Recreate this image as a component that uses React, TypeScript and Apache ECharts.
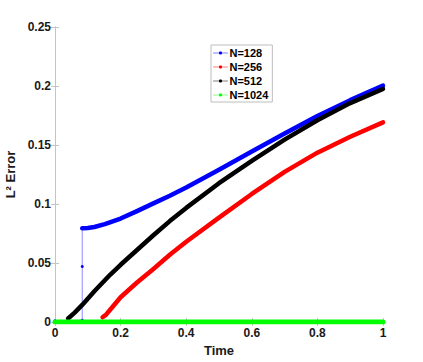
import React, { useEffect, useRef } from "react";
import * as echarts from "echarts";

const xTicks = [0, 0.2, 0.4, 0.6, 0.8, 1];
const yTicks = [0, 0.05, 0.1, 0.15, 0.2, 0.25];

const seriesNames = ["N=128", "N=256", "N=512", "N=1024"];
const seriesColors = ["#0000ff", "#ff0000", "#000000", "#00ff00"];

// N=128: low part + jump (thin, dotted)
const blueJumpTimes = [0, 0.04, 0.083, 0.083, 0.083];
const blueJumpVals = [0.001, 0.0012, 0.0015, 0.047, 0.0794];
// N=128: main curve
const blueTimes = [0.083, 0.1, 0.12, 0.152, 0.2, 0.25, 0.3, 0.35, 0.4, 0.5, 0.6, 0.7, 0.8, 0.9, 1.0];
const blueVals = [0.0794, 0.0797, 0.0805, 0.083, 0.0877, 0.094, 0.1005, 0.107, 0.1139, 0.129, 0.1445, 0.1597, 0.1745, 0.188, 0.2003];

// N=256
const redTimes = [0.145, 0.155, 0.17, 0.2, 0.25, 0.3, 0.35, 0.4, 0.5, 0.6, 0.7, 0.8, 0.9, 1.0];
const redVals = [0.004, 0.006, 0.011, 0.021, 0.0335, 0.045, 0.057, 0.068, 0.0885, 0.1085, 0.1272, 0.1435, 0.157, 0.1692];

// N=512
const blackTimes = [0.04, 0.06, 0.083, 0.12, 0.168, 0.2, 0.25, 0.3, 0.35, 0.4, 0.5, 0.6, 0.7, 0.8, 0.9, 1.0];
const blackVals = [0.003, 0.008, 0.0145, 0.026, 0.04, 0.0485, 0.061, 0.0735, 0.0855, 0.0967, 0.1176, 0.1365, 0.1545, 0.171, 0.1855, 0.1975];

// N=1024
const greenTimes = [0, 1];
const greenVals = [0, 0];

const zip = (t: number[], v: number[]) => t.map((x, i) => [x, v[i]]);

const FONT = "Liberation Sans, Arial, Helvetica, sans-serif";
const AXIS_GRAY = "#c4c4c4";

export default function App() {
  const ref = useRef<HTMLDivElement>(null);

  useEffect(() => {
    if (!ref.current) return;
    const chart = echarts.init(ref.current, undefined, { renderer: "svg" });

    const thick = (name: string, color: string, t: number[], v: number[], w: number) => ({
      name,
      type: "line",
      data: zip(t, v),
      showSymbol: false,
      symbol: "circle",
      symbolSize: 3,
      itemStyle: { color },
      lineStyle: { color, width: w, cap: "round", join: "round" },
      smooth: false,
      silent: true,
      z: 3,
    });

    const axisCommon = {
      type: "value",
      axisLine: { show: true, lineStyle: { color: AXIS_GRAY, width: 1 } },
      axisTick: { show: true, inside: true, length: 4, lineStyle: { color: AXIS_GRAY } },
      splitLine: { show: false },
    };

    chart.setOption({
      animation: false,
      backgroundColor: "#ffffff",
      textStyle: { fontFamily: FONT },
      grid: { left: 55, top: 27, right: 40, bottom: 40, outerBoundsMode: "none", containLabel: false },
      legend: {
        data: seriesNames,
        orient: "vertical",
        left: 211,
        top: 45,
        width: 61,
        padding: [1, 4, 0, 2],
        itemGap: 0,
        itemWidth: 14,
        itemHeight: 4,
        selectedMode: false,
        backgroundColor: "#ffffff",
        borderColor: "#bdbdbd",
        borderWidth: 1,
        borderRadius: 0,
        lineStyle: { width: 1, opacity: 0.5 },
        textStyle: { fontFamily: FONT, fontSize: 11, fontWeight: "bold", color: "#000", lineHeight: 14, padding: [0, 0, 0, -3] },
      },
      xAxis: [
        {
          ...axisCommon,
          min: 0,
          max: 1,
          interval: 0.2,
          name: "Time",
          nameLocation: "middle",
          nameGap: 19,
          nameTextStyle: { fontFamily: FONT, fontSize: 13, fontWeight: "bold", color: "#1a1a1a" },
          axisLabel: { fontFamily: FONT, fontSize: 12, fontWeight: "bold", color: "#1a1a1a", margin: 5 },
        },
        {
          ...axisCommon,
          position: "top",
          min: 0,
          max: 1,
          interval: 0.2,
          axisLabel: { show: false },
        },
      ],
      yAxis: [
        {
          ...axisCommon,
          min: 0,
          max: 0.25,
          interval: 0.05,
          name: "L\u00b2 Error",
          nameLocation: "middle",
          nameGap: 27,
          nameTextStyle: { fontFamily: FONT, fontSize: 13, fontWeight: "bold", color: "#1a1a1a" },
          axisLabel: { fontFamily: FONT, fontSize: 12, fontWeight: "bold", color: "#1a1a1a", margin: 4 },
        },
        {
          ...axisCommon,
          position: "right",
          min: 0,
          max: 0.25,
          interval: 0.05,
          axisLabel: { show: false },
        },
      ],
      series: [
        {
          name: "N=128 jump",
          type: "line",
          data: zip(blueJumpTimes, blueJumpVals),
          symbol: "circle",
          symbolSize: 3,
          showSymbol: true,
          itemStyle: { color: "#0000ff" },
          lineStyle: { color: "rgba(0,0,255,0.45)", width: 1 },
          silent: true,
          z: 2,
        },
        thick(seriesNames[0], seriesColors[0], blueTimes, blueVals, 4.5),
        thick(seriesNames[1], seriesColors[1], redTimes, redVals, 4.5),
        thick(seriesNames[2], seriesColors[2], blackTimes, blackVals, 4.5),
        { ...thick(seriesNames[3], seriesColors[3], greenTimes, greenVals, 5), z: 4 },
      ],
    });

    return () => chart.dispose();
  }, []);

  return (
    <div
      ref={ref}
      style={{ position: "absolute", left: 0, top: 0, width: 423, height: 362 }}
    />
  );
}
